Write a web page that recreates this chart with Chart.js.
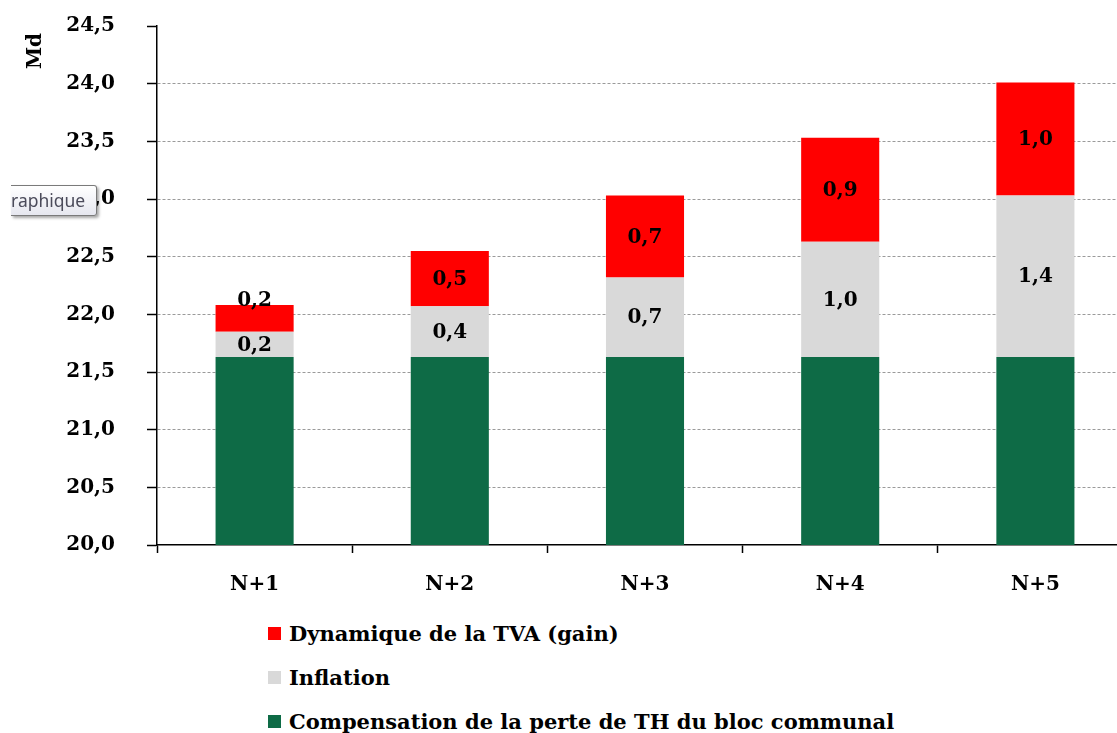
<!DOCTYPE html>
<html lang="fr">
<head>
<meta charset="utf-8">
<script src="https://cdn.jsdelivr.net/npm/chart.js@4/dist/chart.umd.min.js"></script>
<style>
    html, body { margin: 0; padding: 0; background: #fff; overflow: hidden; }
    body { width: 1117px; height: 733px; position: relative; }
    #chartBox { position: absolute; left: 0; top: 0; width: 1140px; height: 600px; }
    #legend { position: absolute; left: 268px; top: 611px; font: bold 21px "DejaVu Serif", serif; color: #000; }
    .legend-row { height: 44px; display: flex; align-items: center; }
    .legend-swatch { width: 13px; height: 13px; margin-right: 8px; }
    #tip {
        position: absolute; left: 11px; top: 185px; width: 85px; height: 29px;
        border: 1px solid #7a7a7a; border-left: none; border-radius: 0 3px 3px 0;
        background: linear-gradient(#ffffff, #e6e7ef);
        box-shadow: 2px 2px 3px rgba(0,0,0,0.35);
        font: 17.5px "Noto Sans", sans-serif; color: #4b4b5a;
        line-height: 29px; white-space: nowrap; overflow: hidden;
    }
</style>
</head>
<body>
<div id="chartBox"><canvas id="chart"></canvas></div>
<div id="legend"></div>
<div id="tip">raphique</div>
<script>
// Data
const categories = ['N+1', 'N+2', 'N+3', 'N+4', 'N+5'];
const compensation = [21.63, 21.63, 21.63, 21.63, 21.63];
const inflation = [0.22, 0.44, 0.69, 1.0, 1.4];
const tvaGain = [0.23, 0.48, 0.71, 0.9, 0.98];

const seriesNames = [
    'Compensation de la perte de TH du bloc communal',
    'Inflation',
    'Dynamique de la TVA (gain)'
];
const seriesColors = ['#0e6b46', '#d9d9d9', '#ff0000'];

const FONT = '"DejaVu Serif", serif';

function frNumber(v) {
    return v.toFixed(1).replace('.', ',');
}

// Labels inside the stacked segments (not on the base series)
const segmentLabels = {
    id: 'segmentLabels',
    afterDatasetsDraw(chart) {
        const ctx = chart.ctx;
        ctx.save();
        ctx.font = 'bold 20px ' + FONT;
        ctx.fillStyle = '#000';
        ctx.textAlign = 'center';
        ctx.textBaseline = 'middle';
        for (let d = 1; d < chart.data.datasets.length; d++) {
            const meta = chart.getDatasetMeta(d);
            meta.data.forEach((bar, i) => {
                const h = bar.base - bar.y;
                let y = bar.y + h / 2;
                // small top segment: Excel label sits on the top edge
                if (d === chart.data.datasets.length - 1 && h < 30) y = bar.y - 5;
                ctx.fillText(frNumber(chart.data.datasets[d].data[i]), bar.x, y + 1);
            });
        }
        ctx.restore();
    }
};

// "Md" unit at the top of the y axis
const unitLabel = {
    id: 'unitLabel',
    afterDraw(chart) {
        const ctx = chart.ctx;
        ctx.save();
        ctx.translate(36, 51);
        ctx.rotate(-Math.PI / 2);
        ctx.font = 'bold 20px ' + FONT;
        ctx.fillStyle = '#000';
        ctx.textAlign = 'center';
        ctx.textBaseline = 'middle';
        ctx.fillText('Md', 0, 0);
        ctx.restore();
    }
};

const datasets = [compensation, inflation, tvaGain].map((data, i) => ({
    label: seriesNames[i],
    data: data,
    backgroundColor: seriesColors[i],
    borderWidth: 0,
    barPercentage: 0.4,
    categoryPercentage: 1.0
}));

new Chart(document.getElementById('chart'), {
    type: 'bar',
    data: { labels: categories, datasets: datasets },
    options: {
        responsive: true,
        maintainAspectRatio: false,
        animation: false,
        layout: { padding: { top: 26, right: 7, left: 0, bottom: 0 } },
        plugins: {
            legend: { display: false },
            tooltip: { enabled: false }
        },
        scales: {
            x: {
                stacked: true,
                afterFit: (scale) => { scale.height = 55; },
                grid: {
                    offset: true,
                    drawOnChartArea: false,
                    tickLength: 8,
                    tickColor: '#000',
                    tickWidth: 1.5
                },
                border: { color: '#000', width: 1.5 },
                ticks: {
                    padding: 20,
                    color: '#000',
                    font: { family: FONT, size: 20, weight: 'bold' }
                }
            },
            y: {
                stacked: true,
                min: 20,
                max: 24.5,
                afterFit: (scale) => {
                    scale.width = 157;
                    // the big label padding should not push the plot down
                    scale.paddingTop = 0;
                    scale.paddingBottom = 0;
                },
                grid: {
                    color: (c) => (c.tick && (c.tick.value === 20 || c.tick.value === 24.5)) ? 'rgba(0,0,0,0)' : '#9a9a9a',
                    lineWidth: 1,
                    tickLength: 10,
                    tickColor: '#000',
                    tickWidth: 1.5
                },
                border: { color: '#000', width: 1.5, dash: [3, 2] },
                ticks: {
                    stepSize: 0.5,
                    padding: 32,
                    color: '#000',
                    font: { family: FONT, size: 20, weight: 'bold' },
                    callback: (v) => frNumber(v)
                }
            }
        }
    },
    plugins: [segmentLabels, unitLabel]
});

// Legend, listed top series first
const legend = document.getElementById('legend');
for (let i = seriesNames.length - 1; i >= 0; i--) {
    const row = document.createElement('div');
    row.className = 'legend-row';
    row.innerHTML = `<span class="legend-swatch" style="background:${seriesColors[i]}"></span><span>${seriesNames[i]}</span>`;
    legend.appendChild(row);
}
</script>
</body>
</html>
